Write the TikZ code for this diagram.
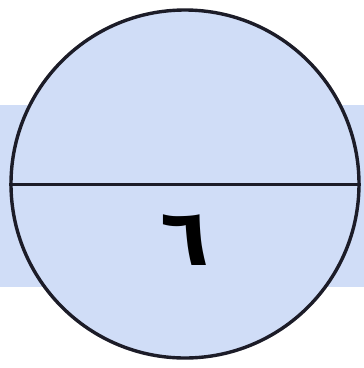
\documentclass[tikz,border=0pt]{standalone}
\usepackage{fontspec}
\newfontfamily\arabicfont[Script=Arabic]{DejaVu Sans}
\TeXXeTstate=1
\definecolor{bandblue}{HTML}{D0DDF7}
\definecolor{edgeblk}{HTML}{1C1C28}
\tikzset{
  band/.style={fill=bandblue, draw=none},
  disc/.style={circle, fill=bandblue, draw=edgeblk, line width=3.4pt, minimum size=348pt, inner sep=0pt},
  divider/.style={draw=edgeblk, line width=3pt},
  digit/.style={font=\arabicfont\bfseries\fontsize{80}{90}\selectfont, text=black, inner sep=0pt}
}
\begin{document}
\begin{tikzpicture}[x=1pt,y=-1pt]
\useasboundingbox (0,0) rectangle (364,368);
\fill[white] (0,0) rectangle (364,368);
\fill[band] (0,105) rectangle (364,287);
\node[disc] (c) at (185,184) {};
\draw[divider] (c.west) -- (c.east);
\node[digit] (d) at (185,240) {\beginR ٦\endR};
\end{tikzpicture}
\end{document}
